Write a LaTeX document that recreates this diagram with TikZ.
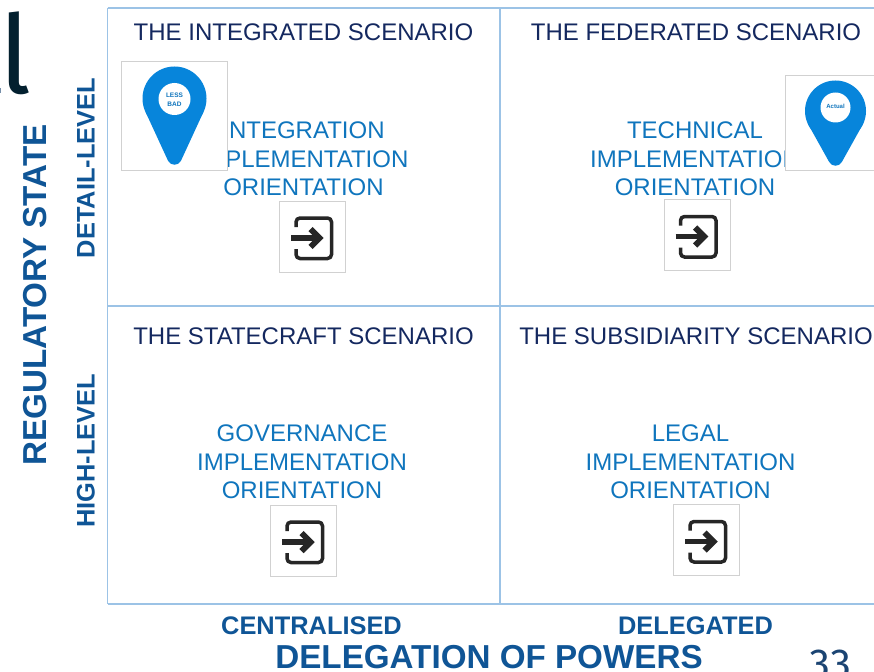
\documentclass[tikz,border=0pt]{standalone}
\usepackage{fontspec}
\setmainfont{Liberation Sans}
\newfontfamily\slidefont{Fira Sans}
\definecolor{gridblue}{HTML}{9CC3E6}
\definecolor{navy}{HTML}{14285F}
\definecolor{orientblue}{HTML}{0F75BD}
\definecolor{axisblue}{HTML}{0F5596}
\definecolor{pinblue}{HTML}{0785DB}
\definecolor{inkdark}{HTML}{03202F}
\definecolor{slideblue}{HTML}{1B4472}
\tikzset{
  title/.style={navy,font=\fontsize{24}{29}\selectfont},
  orient/.style={orientblue,align=center,font=\fontsize{24}{28.7}\selectfont},
  axislabel/.style={axisblue,font=\bfseries\fontsize{25.4}{29}\selectfont},
  axisname/.style={axisblue,font=\bfseries\fontsize{33.2}{38}\selectfont},
  picbox/.style={draw=black!18,fill=white,line width=0.8pt},
}
% #1,#2 top left corner of the picture
\newcommand{\exitmark}[2]{
  \draw[picbox] (#1,#2) rectangle ++(66,71);
  \draw[black!85,line width=3.5pt,rounded corners=4pt] (#1+16.5,#2+26) -- (#1+16.5,#2+17) -- (#1+52,#2+17) -- (#1+52,#2+57.5) -- (#1+16.5,#2+57.5) -- (#1+16.5,#2+48);
  \draw[black!85,line width=5.5pt] (#1+11.5,#2+37) -- (#1+38,#2+37);
  \draw[black!85,line width=6pt] (#1+31,#2+28) -- (#1+40,#2+37) -- (#1+31,#2+46);
}
% #1,#2 circle centre, #3 radius, #4 tip y
\newcommand{\pinmark}[4]{
  \fill[pinblue] (#1,#2) circle (#3pt);
  \fill[pinblue] (#1-#3*0.91,#2+#3*0.41) -- (#1-6.5,#4-3.8) .. controls (#1-4,#4+1.6) and (#1+4,#4+1.6) .. (#1+6.5,#4-3.8) -- (#1+#3*0.91,#2+#3*0.41) -- cycle;
}
\begin{document}
\begin{tikzpicture}
  [x=1pt,y=-1pt]
  \useasboundingbox (0,0) rectangle (874,671);

  % the stray title letter and slide number
  \node[inkdark,font=\slidefont\fontsize{109}{112}\selectfont] (letter) at (15,53) {l};
  \fill[slideblue!60] (0,88) rectangle (1,93);
  \node[slideblue,font=\slidefont\fontsize{42}{46}\selectfont] (slideno) at (830,664) {33};

  \draw[gridblue,line width=2pt] (107.5,8) -- (874,8);
  \draw[gridblue,line width=2pt] (107.5,604) -- (874,604);
  \draw[gridblue,line width=1.2pt] (107.5,306) -- (874,306);
  \draw[gridblue,line width=1.5pt] (107.5,8) -- (107.5,604);
  \draw[gridblue,line width=1.2pt] (500,8) -- (500,604);

  \node[title] (integrated) at (303.5,32) {THE INTEGRATED SCENARIO};
  \node[title] (federated) at (696,32) {THE FEDERATED SCENARIO};
  \node[title] (statecraft) at (303.5,336) {THE STATECRAFT SCENARIO};
  \node[title] (subsidiarity) at (696,336) {THE SUBSIDIARITY SCENARIO};

  \node[orient] (integration) at (303.5,158.8) {INTEGRATION\\IMPLEMENTATION\\ORIENTATION};
  \node[orient] (technical) at (695,158.8) {TECHNICAL\\IMPLEMENTATION\\ORIENTATION};
  \node[orient] (governance) at (302,461.8) {GOVERNANCE\\IMPLEMENTATION\\ORIENTATION};
  \node[orient] (legal) at (690.5,461.8) {LEGAL\\IMPLEMENTATION\\ORIENTATION};

  \node[axisname,rotate=90] (regulatory) at (35,295) {REGULATORY STATE};
  \node[axislabel,rotate=90] (detail) at (86,168) {DETAIL-LEVEL};
  \node[axislabel,rotate=90] (high) at (86,451) {HIGH-LEVEL};
  \node[axislabel] (centralised) at (311.5,626) {CENTRALISED};
  \node[axislabel] (delegated) at (695.5,626) {DELEGATED};
  \node[axisname] (powers) at (489,657) {DELEGATION OF POWERS};

  \draw[picbox] (121.5,61) rectangle (227.5,170.5);
  \pinmark{174.5}{98.5}{32}{164.5}
  \fill[white] (174.5,99) circle (16pt);
  \node[orientblue,align=center,font=\bfseries\fontsize{6.5}{9}\selectfont] (lessbad) at (174.5,100) {LESS\\BAD};

  \draw[picbox] (785,75) rectangle (880,170.5);
  \pinmark{835.5}{111}{30.5}{165.5}
  \fill[white] (835.5,107.5) circle (15pt);
  \node[orientblue,font=\bfseries\fontsize{6}{8}\selectfont] (actual) at (835.5,106.5) {Actual};

  \exitmark{279.5}{201}
  \exitmark{664}{199.5}
  \exitmark{270.5}{505}
  \exitmark{673.5}{504.5}
\end{tikzpicture}
\end{document}
